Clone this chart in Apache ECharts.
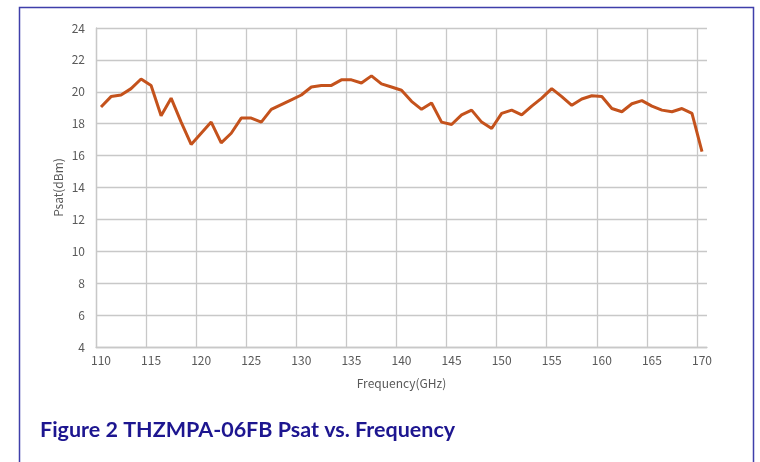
<!DOCTYPE html>
<html>
<head>
<meta charset="utf-8">
<script src="https://cdn.jsdelivr.net/npm/echarts@6/dist/echarts.min.js"></script>
<style>
  html, body { margin: 0; padding: 0; background: #fff; }
  #chart { width: 760px; height: 462px; }
</style>
</head>
<body>
<div id="chart"></div>
<script>
  // frequency points (GHz), one per category
  var freqs = ['110', '111', '112', '113', '114', '115', '116', '117', '118', '119',
    '120', '121', '122', '123', '124', '125', '126', '127', '128', '129',
    '130', '131', '132', '133', '134', '135', '136', '137', '138', '139',
    '140', '141', '142', '143', '144', '145', '146', '147', '148', '149',
    '150', '151', '152', '153', '154', '155', '156', '157', '158', '159',
    '160', '161', '162', '163', '164', '165', '166', '167', '168', '169', '170']

  // Psat (dBm)
  var psat = [19.05, 19.7, 19.8, 20.2, 20.8, 20.4, 18.5, 19.6, 18.1, 16.7,
    17.4, 18.1, 16.8, 17.4, 18.35, 18.35, 18.1, 18.9, 19.2, 19.5,
    19.8, 20.3, 20.4, 20.4, 20.75, 20.75, 20.55, 21.0, 20.5, 20.3,
    20.1, 19.4, 18.9, 19.3, 18.1, 17.95, 18.55, 18.85, 18.1, 17.7,
    18.65, 18.85, 18.55, 19.1, 19.6, 20.2, 19.7, 19.15, 19.55, 19.75,
    19.7, 18.95, 18.75, 19.25, 19.45, 19.1, 18.85, 18.75, 18.95, 18.65, 16.25]

  var yMin = 4
  var yMax = 24
  var yStep = 2

  var chart = echarts.init(document.getElementById('chart'))

  var gridColor = '#c8c8c8'
  var labelColor = '#595959'

  chart.setOption({
    backgroundColor: '#fff',
    animation: false,
    title: {
      text: 'Figure 2 THZMPA-06FB Psat vs. Frequency',
      left: 40,
      top: 419,
      padding: 0,
      textStyle: {
        fontFamily: 'Lato',
        fontWeight: 'bold',
        fontSize: 21.5,
        color: '#1d1690'
      }
    },
    graphic: [{
      type: 'rect',
      z: -1,
      shape: { x: 19.5, y: 7.5, width: 734, height: 500 },
      style: { fill: 'none', stroke: '#3f3faa', lineWidth: 1.5 }
    }],
    grid: {
      left: 96,
      right: 53,
      top: 28,
      bottom: 115
    },
    xAxis: {
      type: 'category',
      data: freqs,
      boundaryGap: true,
      name: 'Frequency(GHz)',
      nameLocation: 'middle',
      nameGap: 30,
      nameTextStyle: {
        fontFamily: 'Noto Sans CJK SC',
        fontSize: 12,
        color: labelColor
      },
      axisLine: {
        lineStyle: { color: gridColor, width: 1.3 }
      },
      axisTick: { show: false },
      axisLabel: {
        interval: 4,
        margin: 7,
        fontFamily: 'Noto Sans CJK SC',
        fontSize: 12,
        color: labelColor
      },
      splitLine: {
        show: true,
        interval: 4,
        showMaxLine: false,
        lineStyle: { color: gridColor, width: 1.3 }
      }
    },
    yAxis: {
      type: 'value',
      min: yMin,
      max: yMax,
      interval: yStep,
      name: 'Psat(dBm)',
      nameLocation: 'middle',
      nameGap: 32,
      nameMoveOverlap: false,
      nameTextStyle: {
        fontFamily: 'Noto Sans CJK SC',
        fontSize: 12,
        color: labelColor
      },
      axisLine: {
        show: true,
        lineStyle: { color: gridColor, width: 1.3 }
      },
      axisTick: { show: false },
      axisLabel: {
        margin: 11,
        fontFamily: 'Noto Sans CJK SC',
        fontSize: 12,
        color: labelColor
      },
      splitLine: {
        lineStyle: { color: gridColor, width: 1.3 }
      }
    },
    series: [{
      name: 'Psat',
      type: 'line',
      data: psat,
      symbol: 'none',
      smooth: false,
      lineStyle: {
        color: '#c4521c',
        width: 3
      }
    }]
  })
</script>
</body>
</html>
